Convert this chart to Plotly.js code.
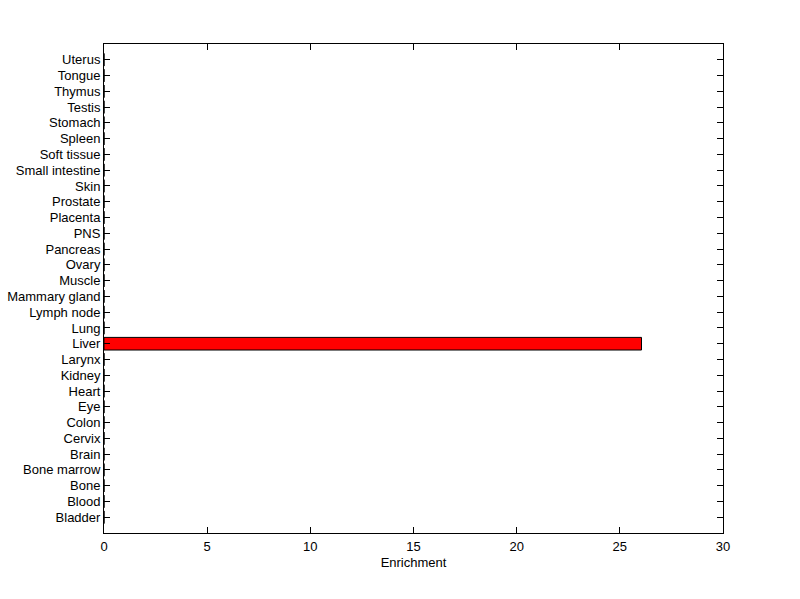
<!DOCTYPE html>
<html><head><meta charset="utf-8">
<script src="https://cdn.plot.ly/plotly-3.0.1.min.js"></script>
<style>html,body{margin:0;padding:0;background:#fff;}#chart{width:800px;height:599px;}</style>
</head><body><div id="chart"></div>
<script>
const tissues = ["Bladder","Blood","Bone","Bone marrow","Brain","Cervix","Colon","Eye","Heart","Kidney","Larynx","Liver","Lung","Lymph node","Mammary gland","Muscle","Ovary","Pancreas","PNS","Placenta","Prostate","Skin","Small intestine","Soft tissue","Spleen","Stomach","Testis","Thymus","Tongue","Uterus"];
const enrichment = [0,0,0,0,0,0,0,0,0,0,0,26.05,0,0,0,0,0,0,0,0,0,0,0,0,0,0,0,0,0,0];
const xTicks = [0,5,10,15,20,25,30];

const idx = tissues.map((_, i) => i);
const font = {family: "Liberation Sans, Arial, sans-serif", size: 13, color: "#000"};
Plotly.newPlot("chart", [{
  type: "bar", orientation: "h",
  x: enrichment, y: idx,
  width: 0.8,
  marker: {color: "#ff0000", line: {color: "#000", width: 1}},
  hoverinfo: "x+y"
}], {
  width: 800, height: 599,
  margin: {l: 104, r: 77, t: 44, b: 66},
  paper_bgcolor: "#fff", plot_bgcolor: "#fff",
  showlegend: false,
  font: font,
  xaxis: {
    range: [0, 30], tickvals: xTicks, ticktext: xTicks.map(String),
    ticks: "inside", ticklen: 6, tickcolor: "#000", tickwidth: 1,
    showline: true, linecolor: "#000", linewidth: 1, mirror: "allticks",
    showgrid: false, zeroline: false,
    ticklabelstandoff: 1,
    title: {text: "Enrichment", font: font, standoff: 5},
    tickfont: font
  },
  yaxis: {
    range: [-1, 30], tickvals: idx, ticktext: tissues,
    ticks: "inside", ticklen: 6, tickcolor: "#000", tickwidth: 1,
    showline: true, linecolor: "#000", linewidth: 1, mirror: "allticks",
    showgrid: false, zeroline: false,
    ticklabelstandoff: 0,
    tickfont: font
  }
}, {displayModeBar: false, staticPlot: true});
</script>
</body></html>
